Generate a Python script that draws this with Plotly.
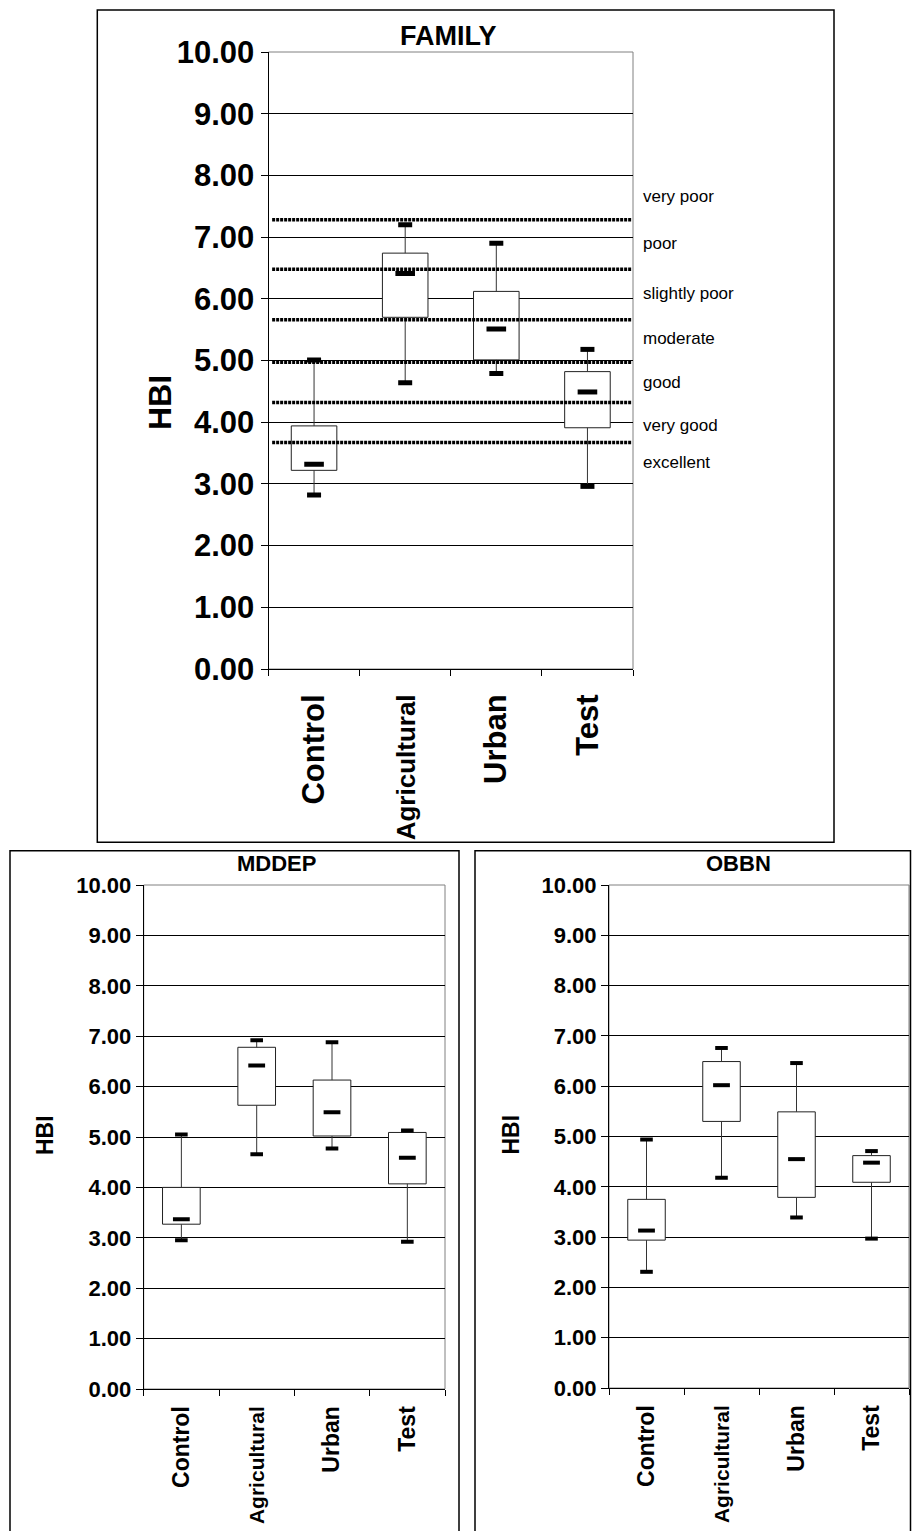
import plotly.graph_objects as go

# ---------------- data ----------------
categories = ["Control", "Agricultural", "Urban", "Test"]

family_min = [2.82, 4.64, 4.79, 2.96]
family_q1 = [3.22, 5.70, 5.01, 3.91]
family_median = [3.32, 6.41, 5.51, 4.49]
family_q3 = [3.94, 6.74, 6.12, 4.82]
family_max = [5.01, 7.20, 6.90, 5.18]

mddep_min = [2.95, 4.66, 4.77, 2.92]
mddep_q1 = [3.27, 5.63, 5.02, 4.07]
mddep_median = [3.37, 6.42, 5.49, 4.59]
mddep_q3 = [4.00, 6.78, 6.13, 5.09]
mddep_max = [5.05, 6.92, 6.88, 5.13]

obbn_min = [2.31, 4.18, 3.39, 2.97]
obbn_q1 = [2.94, 5.30, 3.79, 4.09]
obbn_median = [3.13, 6.02, 4.55, 4.48]
obbn_q3 = [3.75, 6.49, 5.49, 4.62]
obbn_max = [4.94, 6.76, 6.46, 4.71]

thresholds = [3.67, 4.32, 4.97, 5.66, 6.48, 7.28]
class_labels = ["very poor", "poor", "slightly poor", "moderate", "good", "very good", "excellent"]
class_label_y = [7.65, 6.89, 6.08, 5.35, 4.65, 3.95, 3.34]

y_tick_vals = [0, 1, 2, 3, 4, 5, 6, 7, 8, 9, 10]

# ---------------- layout helpers ----------------
W, H = 912, 1531
FONT = "Liberation Sans, Arial, sans-serif"


def px_x(p):
    return p / W


def px_y(p):
    return 1 - p / H


fig = go.Figure()

panels = [
    dict(name="FAMILY", xa="x", ya="y", mn=family_min, q1=family_q1, md=family_median,
         q3=family_q3, mx=family_max, big=True),
    dict(name="MDDEP", xa="x2", ya="y2", mn=mddep_min, q1=mddep_q1, md=mddep_median,
         q3=mddep_q3, mx=mddep_max, big=False),
    dict(name="OBBN", xa="x3", ya="y3", mn=obbn_min, q1=obbn_q1, md=obbn_median,
         q3=obbn_q3, mx=obbn_max, big=False),
]

for p in panels:
    # whiskers
    wx, wy = [], []
    for c, lo, a, b, hi in zip(categories, p["mn"], p["q1"], p["q3"], p["mx"]):
        wx += [c, c, None, c, c, None]
        wy += [b, hi, None, a, lo, None]
    fig.add_trace(go.Scatter(x=wx, y=wy, mode="lines", line=dict(color="#333333", width=1),
                             xaxis=p["xa"], yaxis=p["ya"], showlegend=False, hoverinfo="skip"))
    # boxes
    fig.add_trace(go.Bar(x=categories, y=[b - a for a, b in zip(p["q1"], p["q3"])], base=p["q1"],
                         width=0.5, marker=dict(color="white", line=dict(color="#222222", width=1)),
                         xaxis=p["xa"], yaxis=p["ya"], showlegend=False))
    lw = 5 if p["big"] else 4
    # whisker end markers
    fig.add_trace(go.Scatter(x=categories + categories, y=p["mn"] + p["mx"], mode="markers",
                             marker=dict(symbol="line-ew", size=10 if p["big"] else 9,
                                         line=dict(color="black", width=lw)),
                             xaxis=p["xa"], yaxis=p["ya"], showlegend=False))
    # median markers
    fig.add_trace(go.Scatter(x=categories, y=p["md"], mode="markers",
                             marker=dict(symbol="line-ew", size=14 if p["big"] else 12,
                                         line=dict(color="black", width=lw)),
                             xaxis=p["xa"], yaxis=p["ya"], showlegend=False))

# ---------------- axes ----------------
def xaxis_cfg(domain, anchor, big):
    s_main = 31 if big else 23
    s_agri = 26 if big else 21
    ticktext = [
        f'<span style="font-size:{s_agri}px">{c}</span>' if c == "Agricultural" else c
        for c in categories
    ]
    return dict(domain=domain, anchor=anchor, type="category", categoryorder="array",
                categoryarray=categories, range=[-0.5, 3.5], tickmode="array",
                tickvals=categories, ticktext=ticktext, tickangle=-90,
                tickfont=dict(family=FONT, size=s_main, color="black", weight="bold"),
                ticks="outside", tickson="boundaries", ticklen=6, tickcolor="black",
                ticklabelstandoff=12 if big else 7,
                showline=True, linecolor="black", linewidth=1, showgrid=False,
                zeroline=False, fixedrange=True, automargin=False)


def yaxis_cfg(domain, anchor, big):
    return dict(domain=domain, anchor=anchor, range=[0, 10], tickmode="array",
                tickvals=y_tick_vals, tickformat=".2f",
                tickfont=dict(family=FONT, size=31 if big else 22, color="black", weight="bold"),
                ticks="outside", ticklen=7, tickcolor="black",
                showline=True, linecolor="black", linewidth=1,
                showgrid=True, gridcolor="black", gridwidth=1, zeroline=False, fixedrange=True,
                automargin=False)


fig.update_layout(
    width=W, height=H, autosize=False,
    margin=dict(l=0, r=0, t=0, b=0, pad=0, autoexpand=False),
    paper_bgcolor="white", plot_bgcolor="white",
    showlegend=False, barmode="overlay",
    font=dict(family=FONT, color="black"),
    xaxis=xaxis_cfg([px_x(268.5), px_x(633)], "y", True),
    yaxis=yaxis_cfg([px_y(669), px_y(52)], "x", True),
    xaxis2=xaxis_cfg([px_x(143.7), px_x(445)], "y2", False),
    yaxis2=yaxis_cfg([px_y(1389), px_y(885)], "x2", False),
    xaxis3=xaxis_cfg([px_x(609), px_x(909)], "y3", False),
    yaxis3=yaxis_cfg([px_y(1388), px_y(885)], "x3", False),
)

shapes = []
# gray plot-area borders
for xa, ya in [("x", "y"), ("x2", "y2"), ("x3", "y3")]:
    shapes.append(dict(type="rect", xref=f"{xa} domain", yref=f"{ya} domain", x0=0, x1=1, y0=0, y1=1,
                       line=dict(color="#808080", width=1), layer="below"))
# dotted class thresholds on the family panel
for t in thresholds:
    shapes.append(dict(type="line", xref="x domain", yref="y", x0=0.01, x1=0.995, y0=t, y1=t,
                       line=dict(color="black", width=3.5, dash="3px,1px"), layer="above"))
# outer frames
shapes.append(dict(type="rect", xref="paper", yref="paper", x0=px_x(97.3), x1=px_x(834),
                   y0=px_y(842.3), y1=px_y(10), line=dict(color="black", width=1.5)))
shapes.append(dict(type="rect", xref="paper", yref="paper", x0=px_x(10), x1=px_x(459),
                   y0=-0.01, y1=px_y(850.7), line=dict(color="black", width=1.5)))
shapes.append(dict(type="rect", xref="paper", yref="paper", x0=px_x(475), x1=px_x(910.5),
                   y0=-0.01, y1=px_y(850.7), line=dict(color="black", width=1.5)))
fig.update_layout(shapes=shapes)

annotations = []


def ann(text, x, y, size, angle=0):
    return dict(text=text, xref="paper", yref="paper", x=px_x(x), y=px_y(y), textangle=angle,
                xanchor="center", yanchor="middle", showarrow=False,
                font=dict(family=FONT, size=size, color="black", weight="bold"))


# titles
annotations.append(ann("FAMILY", 448, 36, 27))
annotations.append(ann("MDDEP", 276, 863, 22))
annotations.append(ann("OBBN", 738, 863, 22))
# HBI axis labels
annotations.append(ann("HBI", 160, 403, 32, -90))
annotations.append(ann("HBI", 45, 1135, 23, -90))
annotations.append(ann("HBI", 510.5, 1135, 23, -90))
# class labels
for lab, yv in zip(class_labels, class_label_y):
    annotations.append(dict(text=lab, xref="paper", yref="y", x=px_x(641), y=yv, xanchor="left",
                            yanchor="middle", showarrow=False,
                            font=dict(family=FONT, size=17, color="black")))
fig.update_layout(annotations=annotations)

fig.write_html("out.html", config={"displayModeBar": False},
               post_script="document.body.style.margin='0';document.body.style.padding='0';"
                           "document.body.style.overflow='hidden';")
